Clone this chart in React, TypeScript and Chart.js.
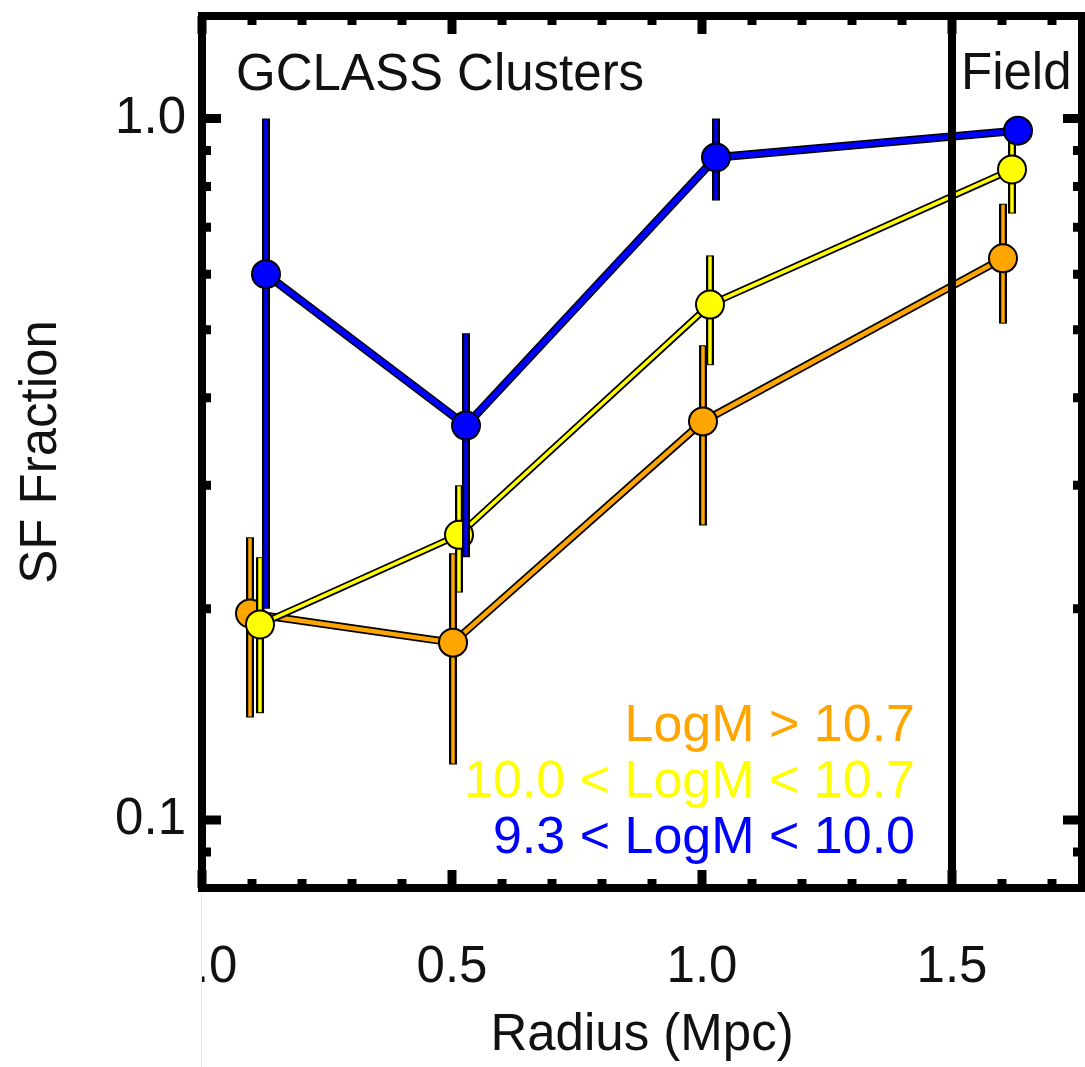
import React, { useEffect, useRef } from 'react';
import { Chart, registerables } from 'chart.js';

Chart.register(...registerables);

const FONT = "'Liberation Sans', Arial, Helvetica, sans-serif";
const TEXT = '#111111';

// Series labels and colours
const seriesLabels = ['LogM > 10.7', '10.0 < LogM < 10.7', '9.3 < LogM < 10.0'];
const seriesColors = ['#FFA500', '#FFFF00', '#0000FF'];

// LogM > 10.7 (orange)
const orangeX = [0.096, 0.502, 1.002, 1.602];
const orangeY = [0.197, 0.179, 0.37, 0.632];
const orangeHi = [0.253, 0.24, 0.475, 0.756];
const orangeLo = [0.14, 0.12, 0.263, 0.51];

// 10.0 < LogM < 10.7 (yellow)
const yellowX = [0.116, 0.514, 1.016, 1.62];
const yellowY = [0.19, 0.255, 0.543, 0.846];
const yellowHi = [0.237, 0.3, 0.638, 0.96];
const yellowLo = [0.142, 0.211, 0.445, 0.732];

// 9.3 < LogM < 10.0 (blue)
const blueX = [0.128, 0.528, 1.028, 1.632];
const blueY = [0.6, 0.365, 0.88, 0.961];
const blueHi = [1.0, 0.494, 1.0, 0.99];
const blueLo = [0.2, 0.237, 0.764, 0.93];

// Axis ticks
const xMajor = [0, 0.5, 1.0, 1.5];
const xMinor = [0.1, 0.2, 0.3, 0.4, 0.6, 0.7, 0.8, 0.9, 1.1, 1.2, 1.3, 1.4, 1.6, 1.7];
const yMajor = [0.1, 1.0];
const yMinor = [0.09, 0.2, 0.3, 0.4, 0.5, 0.6, 0.7, 0.8, 0.9];

const fieldBoundary = 1.5;

const zeroPad = (s: any) => {
  s.paddingTop = 0;
  s.paddingBottom = 0;
  s.paddingLeft = 0;
  s.paddingRight = 0;
};

const decorPlugin = {
  id: 'decor',
  beforeDatasetDraw(chart: any, args: any) {
    const ds = chart.data.datasets[args.index];
    if (!ds._err) return;
    const s = ds._err;
    const ctx = chart.ctx;
    const xS = chart.scales.x;
    const yS = chart.scales.y;
    const a = chart.chartArea;
    ctx.save();
    ctx.beginPath();
    ctx.rect(a.left, a.top, a.right - a.left, a.bottom - a.top);
    ctx.clip();
    ctx.lineCap = 'butt';
    for (let i = 0; i < s.x.length; i++) {
      const px = xS.getPixelForValue(s.x[i]);
      const y1 = yS.getPixelForValue(s.hi[i]);
      const y2 = yS.getPixelForValue(s.lo[i]);
      ctx.strokeStyle = '#000';
      ctx.lineWidth = 8;
      ctx.beginPath();
      ctx.moveTo(px, y1);
      ctx.lineTo(px, y2);
      ctx.stroke();
      ctx.strokeStyle = s.color;
      ctx.lineWidth = 3.5;
      ctx.beginPath();
      ctx.moveTo(px, y1 + 1);
      ctx.lineTo(px, y2 - 1);
      ctx.stroke();
    }
    ctx.restore();
  },
  afterDatasetsDraw(chart: any) {
    const ctx = chart.ctx;
    const xS = chart.scales.x;
    const yS = chart.scales.y;
    const a = chart.chartArea;
    ctx.save();
    ctx.strokeStyle = '#000';
    ctx.lineCap = 'butt';
    // field boundary
    const bx = xS.getPixelForValue(fieldBoundary);
    ctx.lineWidth = 8;
    ctx.beginPath();
    ctx.moveTo(bx, a.top);
    ctx.lineTo(bx, a.bottom);
    ctx.stroke();
    // ticks
    ctx.lineWidth = 9;
    const tickX = (v: number, len: number) => {
      const px = xS.getPixelForValue(v);
      ctx.beginPath();
      ctx.moveTo(px, a.bottom);
      ctx.lineTo(px, a.bottom - len);
      ctx.moveTo(px, a.top);
      ctx.lineTo(px, a.top + len);
      ctx.stroke();
    };
    const tickY = (v: number, len: number) => {
      const py = yS.getPixelForValue(v);
      ctx.beginPath();
      ctx.moveTo(a.left, py);
      ctx.lineTo(a.left + len, py);
      ctx.moveTo(a.right, py);
      ctx.lineTo(a.right - len, py);
      ctx.stroke();
    };
    xMajor.forEach((v) => tickX(v, 18));
    xMinor.forEach((v) => tickX(v, 9));
    yMajor.forEach((v) => tickY(v, 19));
    yMinor.forEach((v) => tickY(v, 9));
    // frame
    ctx.lineWidth = 8;
    ctx.strokeRect(a.left, a.top, a.right - a.left, a.bottom - a.top);
    // texts
    ctx.fillStyle = TEXT;
    ctx.font = `51px ${FONT}`;
    ctx.textAlign = 'left';
    ctx.textBaseline = 'alphabetic';
    ctx.fillText('GCLASS Clusters', 236, 90);
    ctx.fillText('Field', 961, 89);
    ctx.font = `52px ${FONT}`;
    ctx.textAlign = 'right';
    const baselines = [741, 797, 853];
    seriesLabels.forEach((t, i) => {
      ctx.fillStyle = seriesColors[i];
      ctx.fillText(t, 915, baselines[i]);
    });
    ctx.restore();
  },
  afterDraw(chart: any) {
    const ctx = chart.ctx;
    ctx.save();
    ctx.fillStyle = '#ffffff';
    ctx.fillRect(0, 893, 201, 174);
    ctx.strokeStyle = '#e4e4e4';
    ctx.lineWidth = 1;
    ctx.beginPath();
    ctx.moveTo(201.5, 893);
    ctx.lineTo(201.5, 1067);
    ctx.stroke();
    ctx.restore();
  },
};

export default function App() {
  const ref = useRef<HTMLCanvasElement>(null);

  useEffect(() => {
    const series = [
      { label: seriesLabels[0], color: seriesColors[0], x: orangeX, y: orangeY, lo: orangeLo, hi: orangeHi, outline: 8, width: 4.5 },
      { label: seriesLabels[1], color: seriesColors[1], x: yellowX, y: yellowY, lo: yellowLo, hi: yellowHi, outline: 7, width: 3.5 },
      { label: seriesLabels[2], color: seriesColors[2], x: blueX, y: blueY, lo: blueLo, hi: blueHi, outline: 8.5, width: 5.5 },
    ];
    const datasets: any[] = [];
    series.forEach((s, k) => {
      const base = (series.length - 1 - k) * 2;
      datasets.push({
        label: s.label + ' outline',
        data: s.x.map((xv, i) => ({ x: xv, y: s.y[i] })),
        showLine: true,
        borderColor: '#000',
        borderWidth: s.outline,
        pointRadius: 0,
        pointHoverRadius: 0,
        order: base + 1,
        _err: s,
      });
      datasets.push({
        label: s.label,
        data: s.x.map((xv, i) => ({ x: xv, y: s.y[i] })),
        showLine: true,
        borderColor: s.color,
        borderWidth: s.width,
        pointRadius: 14,
        pointHoverRadius: 14,
        pointBorderWidth: 2,
        pointBackgroundColor: s.color,
        pointBorderColor: '#000',
        order: base,
      });
    });

    const chart = new Chart(ref.current as HTMLCanvasElement, {
      type: 'scatter',
      data: { datasets },
      options: {
        animation: false,
        responsive: false,
        layout: { autoPadding: false, padding: { top: 16, right: 3, bottom: 0, left: 0 } },
        plugins: { legend: { display: false }, tooltip: { enabled: false } },
        scales: {
          x: {
            type: 'linear',
            min: 0,
            max: 1.76,
            afterFit: (s: any) => {
              s.height = 179;
              zeroPad(s);
            },
            afterBuildTicks: (s: any) => {
              s.ticks = xMajor.map((v) => ({ value: v }));
            },
            grid: { display: false },
            border: { display: false },
            ticks: {
              padding: 41,
              autoSkip: false,
              maxRotation: 0,
              color: TEXT,
              font: { family: FONT, size: 51 },
              callback: (v: any) => Number(v).toFixed(1),
            },
            title: {
              display: true,
              text: 'Radius (Mpc)',
              color: TEXT,
              font: { family: FONT, size: 51 },
              padding: 0,
            },
          },
          y: {
            type: 'logarithmic',
            min: 0.08,
            max: 1.4,
            afterFit: (s: any) => {
              s.width = 202;
              zeroPad(s);
            },
            afterBuildTicks: (s: any) => {
              s.ticks = yMajor.map((v) => ({ value: v }));
            },
            grid: { display: false },
            border: { display: false },
            ticks: {
              padding: 8,
              autoSkip: false,
              color: TEXT,
              font: { family: FONT, size: 51 },
              callback: (v: any) => Number(v).toFixed(1),
            },
            title: {
              display: true,
              text: 'SF Fraction',
              color: TEXT,
              font: { family: FONT, size: 51 },
              padding: { top: 11, bottom: 0 },
            },
          },
        },
      } as any,
      plugins: [decorPlugin],
    });
    return () => chart.destroy();
  }, []);

  return (
    <div style={{ position: 'absolute', left: 0, top: 0, width: 1085, height: 1067, background: '#fff' }}>
      <canvas ref={ref} width={1085} height={1067} style={{ display: 'block' }} />
    </div>
  );
}
